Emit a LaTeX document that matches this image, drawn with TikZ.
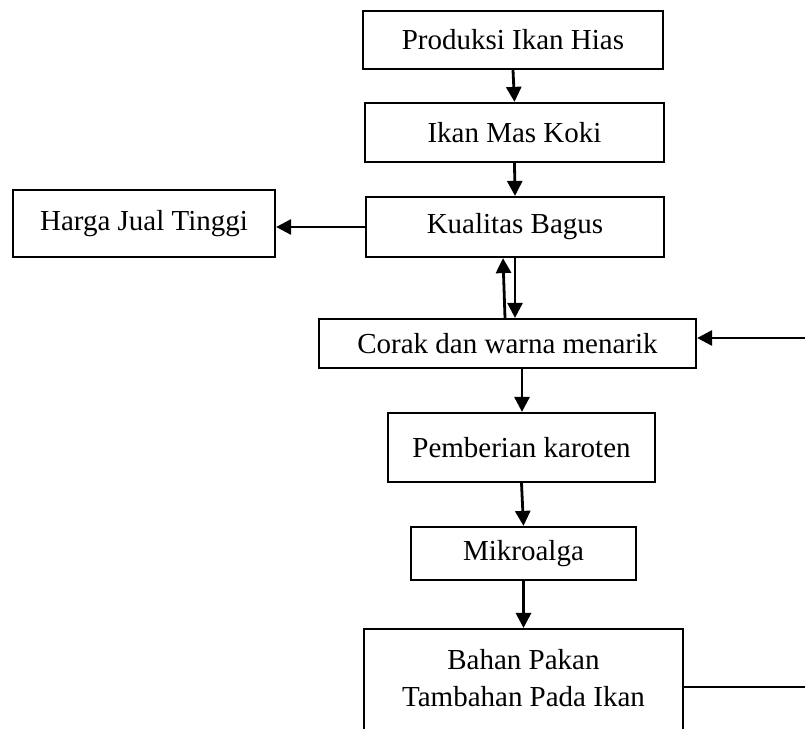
\documentclass[tikz,border=0pt]{standalone}
\usepackage{fontspec}
\setmainfont{Liberation Serif}
\usetikzlibrary{arrows.meta}

\begin{document}
\begin{tikzpicture}[x=0.5pt, y=0.5pt,
    box/.style={draw, line width=1.1pt, inner sep=0pt, font=\fontsize{14.5}{18.5}\selectfont},
    arr/.style={-{Triangle[length=7.5pt,width=7.5pt]}, line width=1.4pt}]
    \useasboundingbox (0,0) rectangle (805,729);
    \clip (0,0) rectangle (805,729);
    % boxes (centres in page pixels, y upward)
    \node[box, minimum width=150pt, minimum height=29pt] (prod) at (513,689) {Produksi Ikan Hias};
    \node[box, minimum width=149.5pt, minimum height=29.5pt] (koki) at (514.5,596.5) {Ikan Mas Koki};
    \node[box, minimum width=149pt, minimum height=30pt] (kual) at (515,502) {Kualitas Bagus};
    \node[box, minimum width=131pt, minimum height=33.5pt] (harga) at (144,505.5) {Harga Jual Tinggi};
    \node[box, minimum width=188.5pt, minimum height=24.5pt] (corak) at (507.5,385.5) {Corak dan warna menarik};
    \node[box, minimum width=133.5pt, minimum height=34.5pt] (pemb) at (521.5,281.5) {Pemberian karoten};
    \node[box, minimum width=112.5pt, minimum height=26.5pt] (mikro) at (523.5,175.5) {Mikroalga};
    \node[box, minimum width=159.5pt, inner ysep=10pt, text depth=20pt, align=center, anchor=north] (bahan) at (523.5,101)
        {Bahan Pakan\\Tambahan Pada Ikan};
    % loose ends at the page edge
    \coordinate (inR) at (805,391);
    \coordinate (outR) at (805,42);
    % arrows
    \draw[arr] (prod.south) -- (koki.north);
    \draw[arr] (koki.south) -- (kual.north);
    \draw[arr] (kual.west) -- (kual.west -| harga.east);
    \draw[arr] ([xshift=-1.25pt]corak.north) -- ([xshift=-6pt]kual.south);
    \draw[arr] (kual.south) -- (kual.south |- corak.north);
    \draw[arr] (inR) -- (inR -| corak.east);
    \draw[arr] ([xshift=7.25pt]corak.south) -- ([xshift=7.25pt]corak.south |- pemb.north);
    \draw[arr] (pemb.south) -- (mikro.north);
    \draw[arr] (mikro.south) -- (bahan.north);
    \draw[line width=1.4pt] (outR -| bahan.east) -- (outR);
\end{tikzpicture}
\end{document}
